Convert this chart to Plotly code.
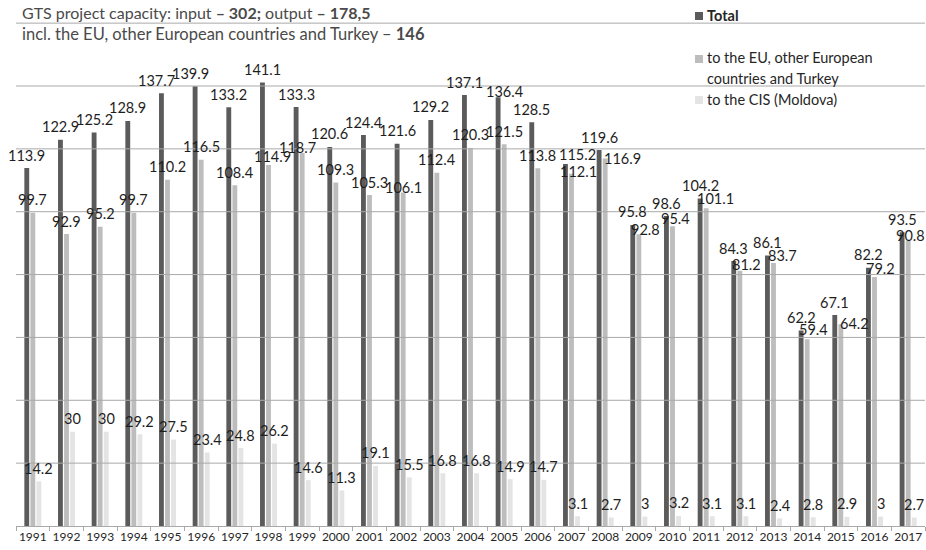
import plotly.graph_objects as go

# Gas transit through the GTS, bcm per year
years = [str(y) for y in range(1991, 2018)]
total = [113.9, 122.9, 125.2, 128.9, 137.7, 139.9, 133.2, 141.1, 133.3, 120.6,
         124.4, 121.6, 129.2, 137.1, 136.4, 128.5, 115.2, 119.6, 95.8, 98.6,
         104.2, 84.3, 86.1, 62.2, 67.1, 82.2, 93.5]
to_eu = [99.7, 92.9, 95.2, 99.7, 110.2, 116.5, 108.4, 114.9, 118.7, 109.3,
         105.3, 106.1, 112.4, 120.3, 121.5, 113.8, 112.1, 116.9, 92.8, 95.4,
         101.1, 81.2, 83.7, 59.4, 64.2, 79.2, 90.8]
to_cis = [14.2, 30, 30, 29.2, 27.5, 23.4, 24.8, 26.2, 14.6, 11.3,
          19.1, 15.5, 16.8, 16.8, 14.9, 14.7, 3.1, 2.7, 3, 3.2,
          3.1, 3.1, 2.4, 2.8, 2.9, 3, 2.7]
grid_values = [20, 40, 60, 80, 100, 120, 140, 160]

series_names = ["Total", "to the EU, other European countries and Turkey",
                "to the CIS (Moldova)"]
series_values = [total, to_eu, to_cis]
colors = ["#5b5b5b", "#bdbdbd", "#e4e4e4"]

W, H = 926, 550
M_L, M_R, M_T, M_B = 16, 1, 20, 24
FONT = "Lato"
GRID = "#a9a9a9"
BARGAP = 0.46
LABEL_LIFT = 13  # px between bar top and label centre

# Hand-placed value labels that would otherwise collide: (series, year) -> (dx px, lift px)
label_nudges = {
    (0, "1995"): (-4.5, LABEL_LIFT), (0, "1996"): (-4.5, LABEL_LIFT),
    (0, "2005"): (6, 5.5), (0, "2007"): (12, 9.5),
    (1, "1998"): (3.5, 8), (1, "1999"): (-5, 5), (1, "2002"): (0, 5.5),
    (1, "2007"): (7, 2), (1, "2008"): (17, 0), (1, "2009"): (6.5, 4.5),
    (1, "2010"): (2.5, 7.5), (1, "2011"): (9, 9.5), (1, "2012"): (6.5, 6.5),
    (1, "2013"): (9, 7), (1, "2014"): (6, 9.5), (1, "2015"): (14, 1),
    (1, "2016"): (5.5, 9), (1, "2017"): (2, 5.5),
}

plot_w = W - M_L - M_R
cat_w = plot_w / len(years)
slot_w = cat_w * (1 - BARGAP) / len(series_values)


def px_x(px):
    return (px - M_L) / plot_w


def px_y(py):
    return (H - M_B - py) / (H - M_T - M_B)


fig = go.Figure()
for name, vals, col in zip(series_names, series_values, colors):
    fig.add_trace(go.Bar(
        x=years, y=vals, name=name,
        marker=dict(color=col, line=dict(width=0)),
        showlegend=False,
    ))

fig.update_layout(
    width=W, height=H,
    margin=dict(l=M_L, r=M_R, t=M_T, b=M_B),
    paper_bgcolor="white", plot_bgcolor="white",
    barmode="group", bargap=BARGAP, bargroupgap=0.2,
    font=dict(family=FONT, color="#262626"),
)
fig.update_yaxes(range=[0, 161], showticklabels=False, showgrid=False,
                 zeroline=False, showline=False, ticks="")
fig.update_xaxes(type="category", range=[-0.5, len(years) - 0.5],
                 showline=True, linecolor=GRID,
                 linewidth=1, ticks="outside", tickson="boundaries",
                 ticklen=4, tickcolor=GRID, tickangle=0,
                 tickfont=dict(family=FONT, size=12, color="#262626"),
                 showgrid=False)

# Horizontal gridlines, drawn over the bars
for gv in grid_values:
    fig.add_shape(type="line", xref="paper", yref="y", x0=0, x1=1, y0=gv, y1=gv,
                  line=dict(color=GRID, width=1), layer="above")

# Value labels above each bar (x given as category index)
for i, vals in enumerate(series_values):
    base_dx = (i - (len(series_values) - 1) / 2) * slot_w
    for j, (yr, v) in enumerate(zip(years, vals)):
        ndx, lift = label_nudges.get((i, yr), (0, LABEL_LIFT))
        fig.add_annotation(xref="x", yref="y", x=j, y=v,
                           xshift=base_dx + ndx, yshift=lift,
                           xanchor="center", yanchor="middle", showarrow=False,
                           text=f"{v:g}",
                           font=dict(family=FONT, size=14.5, color="#1e1e1e"))

# Header text
fig.add_annotation(xref="paper", yref="paper", x=px_x(20), y=px_y(12),
                   xanchor="left", yanchor="middle", showarrow=False,
                   text="GTS project capacity: input <b>– 302;</b> output <b>– 178,5</b>",
                   font=dict(family=FONT, size=16, color="#4a4a4a"))
fig.add_annotation(xref="paper", yref="paper", x=px_x(20), y=px_y(34),
                   xanchor="left", yanchor="middle", showarrow=False,
                   text="incl. the EU, other European countries and Turkey – <b>146</b>",
                   font=dict(family=FONT, size=16.5, color="#4a4a4a"))

# Legend
legend_rows = [
    (16, [("<b>Total</b>", 15)]),
    (59, [("to the EU, other European", 57), ("countries and Turkey", 78)]),
    (100, [("to the CIS (Moldova)", 100)]),
]
for (sq_y, lines), col in zip(legend_rows, colors):
    fig.add_shape(type="rect", xref="paper", yref="paper",
                  x0=px_x(695), x1=px_x(703), y0=px_y(sq_y - 4), y1=px_y(sq_y + 4),
                  fillcolor=col, line=dict(width=0), layer="above")
    for txt, ty in lines:
        fig.add_annotation(xref="paper", yref="paper", x=px_x(705), y=px_y(ty),
                           xanchor="left", yanchor="middle", showarrow=False,
                           text=txt, font=dict(family=FONT, size=14.5, color="#262626"))

fig.write_html("out.html")
